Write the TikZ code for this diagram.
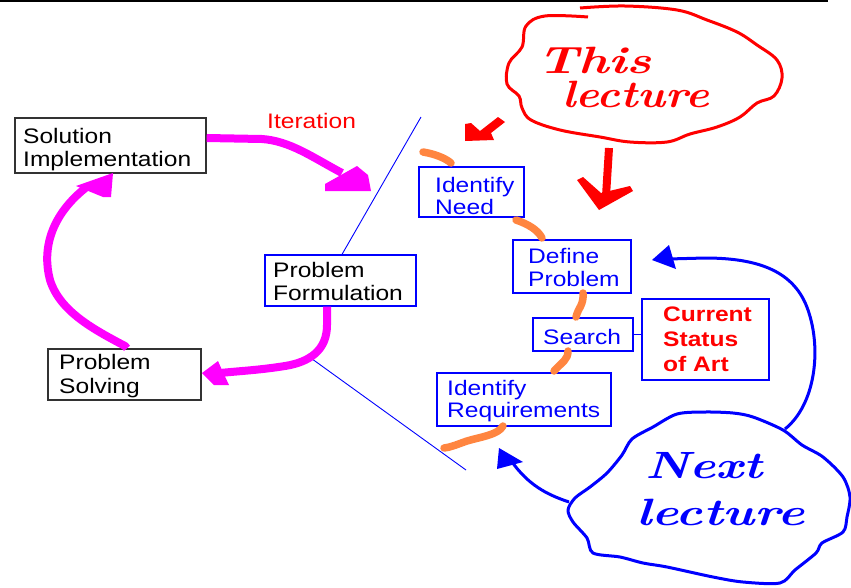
\documentclass[tikz,border=0pt]{standalone}
\usepackage{fontspec}
\newfontfamily\arialx[FakeStretch=1.17]{Liberation Sans}
\definecolor{mag}{RGB}{255,0,255}
\definecolor{rd}{RGB}{255,0,0}
\definecolor{bl}{RGB}{0,0,255}
\definecolor{org}{RGB}{255,133,64}
\definecolor{dk}{RGB}{50,50,50}
\tikzset{
  lbl/.style={inner sep=0pt, anchor=base west, font=\arialx\fontsize{21}{24}\selectfont},
  hand/.style={inner sep=0pt, anchor=base west, font=\fontsize{38}{40}\selectfont\bfseries\itshape},
  blackbox/.style={draw=dk, line width=1.4pt, inner sep=0pt},
  bluebox/.style={draw=bl, line width=2pt, inner sep=0pt},
  formbox/.style={draw=bl, line width=1.2pt, inner sep=0pt},
  magline/.style={draw=mag, line width=8pt},
  orgline/.style={draw=org, line width=7.5pt, line cap=round},
  blueline/.style={draw=bl, line width=3pt},
  redline/.style={draw=rd, line width=3pt},
}
\begin{document}
\begin{tikzpicture}[x=1pt,y=-1pt]
\useasboundingbox (0,0) rectangle (851,587);
\fill[white] (0,0) rectangle (851,587);
% top rule
\coordinate (tl) at (0,1);
\coordinate (tr) at (828,1);
\draw[line width=2pt] (tl) -- (tr);

% boxes
\node[blackbox, minimum width=191, minimum height=55] (sol) at (110.5,145.5) {};
\node[blackbox, minimum width=153, minimum height=51] (psol) at (124.5,374.5) {};
\node[formbox, minimum width=151, minimum height=51] (form) at (340.5,280.5) {};
\node[bluebox, minimum width=105, minimum height=50] (need) at (471.5,192) {};
\node[bluebox, minimum width=118, minimum height=53] (def) at (572,266.5) {};
\node[bluebox, minimum width=100, minimum height=33] (search) at (583,334.5) {};
\node[bluebox, minimum width=174, minimum height=53] (req) at (524,399.5) {};
\node[bluebox, minimum width=127, minimum height=81] (cur) at (705.5,339.5) {};

% texts
\node[lbl] (t1) at (23,143) {Solution};
\node[lbl] (t2) at (23,166) {Implementation};
\node[lbl] (t3) at (273,277) {Problem};
\node[lbl] (t4) at (273,300) {Formulation};
\node[lbl] (t5) at (59,369) {Problem};
\node[lbl] (t6) at (59,393) {Solving};
\node[lbl, text=rd] (t7) at (267,128) {Iteration};
\node[lbl, text=bl] (t8) at (435,192) {Identify};
\node[lbl, text=bl] (t9) at (435,214) {Need};
\node[lbl, text=bl] (t10) at (528,263) {Define};
\node[lbl, text=bl] (t11) at (528,286) {Problem};
\node[lbl, text=bl] (t12) at (543,344) {Search};
\node[lbl, text=bl] (t13) at (447,395) {Identify};
\node[lbl, text=bl] (t14) at (447,417) {Requirements};
\node[lbl, text=rd, font=\arialx\bfseries\fontsize{21}{24}\selectfont] (t15) at (663,321) {Current};
\node[lbl, text=rd, font=\arialx\bfseries\fontsize{21}{24}\selectfont] (t16) at (663,346) {Status};
\node[lbl, text=rd, font=\arialx\bfseries\fontsize{21}{24}\selectfont] (t17) at (663,371) {of Art};

% connector search - current
\draw[bl, line width=1.5pt] (search.east) -- (search.east -| cur.west);

% thin blue diagonals
\coordinate (d1a) at (421,117);
\coordinate (d2a) at (308,356);
\coordinate (d2b) at (466,470);
\draw[bl, line width=0.9pt] (d1a) -- (form.north -| 342,0);
\draw[bl, line width=0.9pt] (d2a) -- (d2b);

% magenta arrows
\draw[magline] (sol.east |- 0,138) -- (262,139) .. controls (290,141) and (312,157) .. (342,173);
\fill[mag] (325,184) -- (325,191) -- (371,191) -- (368,175) -- (357,166) -- cycle;

\draw[magline] (psol.north -| 127,0) -- (125,346) .. controls (95,330) and (60,312) .. (50,280)
  .. controls (42,250) and (50,215) .. (88,186);
\fill[mag] (76,186) -- (113,173) -- (111,197) -- (103,197) -- cycle;

\draw[magline] (form.south -| 327,0) -- (327,325) .. controls (327,350) and (310,362) .. (285,366)
  .. controls (260,370) and (240,371) .. (220,373);
\fill[mag] (202,373) -- (218,361) -- (222,370) -- (229,385) -- (214,385) -- cycle;

% orange strokes
\draw[orgline] (423,152) .. controls (435,154) and (445,158) .. (451,163);
\draw[orgline] (516,220) .. controls (528,224) and (538,230) .. (542,238);
\draw[orgline] (583,293) .. controls (584,305) and (578,308) .. (576,317);
\draw[orgline] (568,351) .. controls (568,360) and (562,362) .. (554,371);
\draw[orgline] (503,426) .. controls (498,435) and (480,437) .. (467,441) .. controls (458,444) and (452,447) .. (444,448);

% red cloud
\draw[redline, line join=round] plot[smooth, tension=0.6] coordinates {
 (588,17) (545,16) (526,26) (522,47) (509,63) (507,84) (519,96) (522,108) (531,120)
 (560,130) (600,137) (630,142) (667,142) (690,134) (717,127) (740,117) (757,103)
 (774,96) (782,78) (777,60) (757,45) (737,32) (707,20) (677,10) (625,6) (580,8)};
\node[hand, text=rd] (th1) at (537,73) {\scalebox{1.35}[1]{This}};
\node[hand, text=rd] (th2) at (562,107) {\scalebox{1.18}[1]{lecture}};
% red arrows
\fill[rd] (465,124) -- (471,123) -- (480,131) -- (498,117) -- (505,122) -- (491,133) -- (494,140) -- (465,141) -- cycle;
\draw[rd, line width=8pt] (609,148) -- (606,196);
\fill[rd] (577,180) -- (583,177) -- (601,193) -- (630,186) -- (633,191) -- (599,210) -- cycle;

% blue cloud
\draw[blueline, line join=round] plot[smooth cycle, tension=0.5] coordinates {
 (622,455) (632,439) (653,427) (677,414) (705,412) (733,413) (753,417) (783,430)
 (802,445) (823,457) (843,477) (850,497) (847,517) (843,532) (822,543) (816,553)
 (795,570) (780,583) (743,582) (713,577) (667,567) (643,563) (620,557) (593,553)
 (587,538) (573,522) (568,510) (575,498) (590,487) (607,473)};
\node[hand, text=bl] (nx1) at (645,478) {\scalebox{1.3}[1]{Next}};
\node[hand, text=bl] (nx2) at (636,525) {\scalebox{1.35}[1]{lecture}};
% blue arrows
\coordinate (ca) at (785,429);
\draw[blueline] (ca) .. controls (815,405) and (822,350) .. (808,310)
  .. controls (795,272) and (760,258) .. (705,258) -- (668,259);
\fill[bl] (652,260) -- (669,245) -- (676,269) -- cycle;
\coordinate (cb) at (569,502);
\draw[blueline] (cb) .. controls (545,494) and (528,484) .. (512,462);
\fill[bl] (499,448) -- (497,469) -- (523,462) -- cycle;
\end{tikzpicture}
\end{document}
